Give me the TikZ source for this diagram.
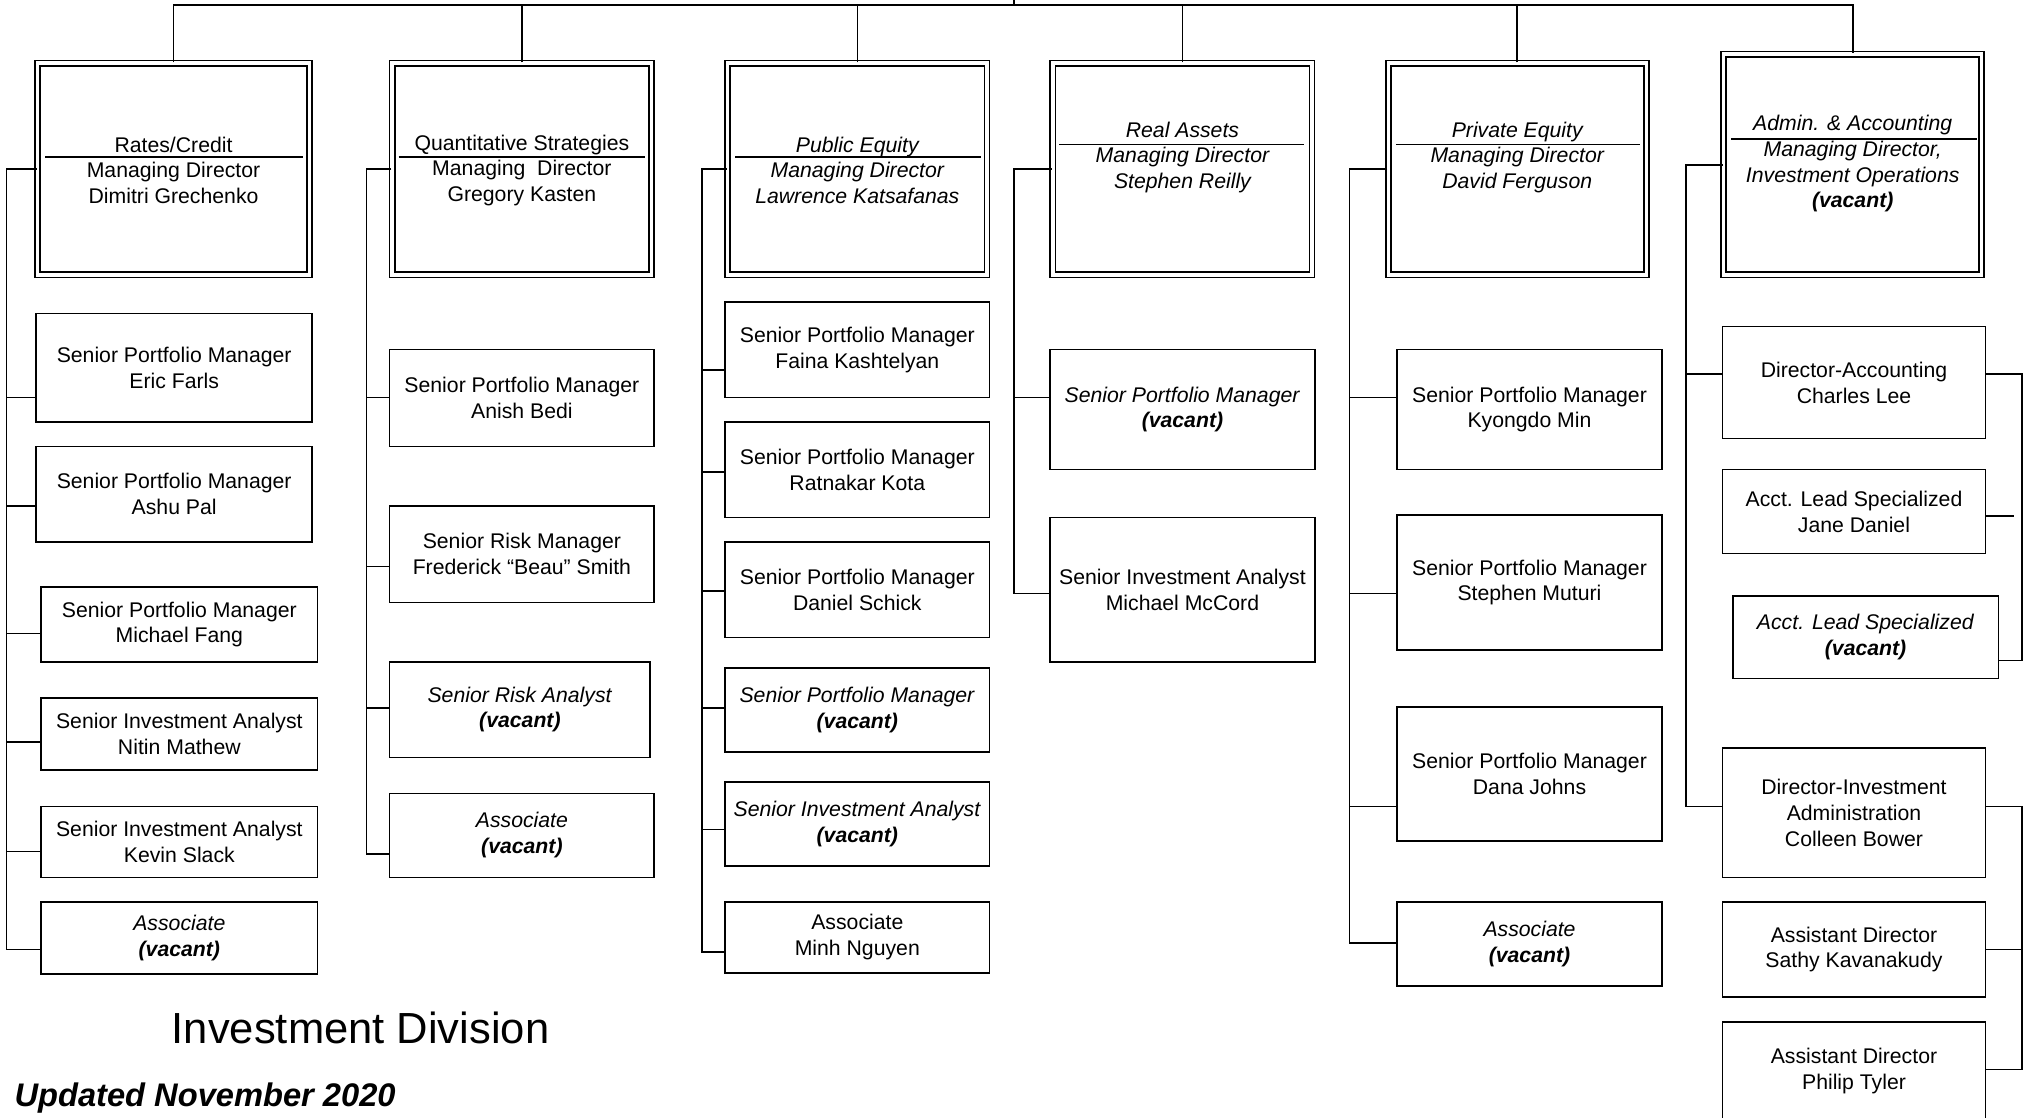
\documentclass[tikz,border=0pt]{standalone}
\usepackage{fontspec}
\setmainfont{Liberation Sans}
\newcommand\subfont{\fontsize{11.7}{14.2}\selectfont}
\newcommand\vac{\textbf{\textit{(vacant)}}}
\tikzset{
  conn/.style={line width=0.9pt},
  sbox/.style={draw, line width=0.9pt, align=center, inner sep=0pt, font=\subfont},
  mbox/.style={draw, line width=0.9pt, double, double distance=1.9pt, inner sep=0pt},
  mtext/.style={align=center, inner sep=0pt, font=\subfont},
}
\newcommand\sbx[6]{\node[sbox, minimum width={(#4-#2)*0.025cm}, minimum height={(#5-#3)*0.025cm}] (#1) at ({(#2+#4)/2},{(#3+#5)/2}) {#6};}
\newcommand\mbx[5]{\node[mbox, minimum width={(#4-#2-4)*0.025cm}, minimum height={(#5-#3-4)*0.025cm}] (#1) at ({(#2+#4)/2},{(#3+#5)/2}) {};}
\newcommand\lstub[3]{\draw[conn] (#1.west |- 0,#3) -- (#2 |- 0,#3);}
\newcommand\rstub[3]{\draw[conn] (#1.east |- 0,#3) -- (#2 |- 0,#3);}
\begin{document}
\begin{tikzpicture}[x=0.025cm, y=-0.025cm]
\useasboundingbox (0,0) rectangle (1568,866);
\fill[white] (0,0) rectangle (1568,866);
\clip (0,0) rectangle (1568,866);

% ---------- managing directors ----------
\mbx{m1}{27}{47}{242}{215}
\mbx{m2}{302}{47}{507}{215}
\mbx{m3}{562}{47}{767}{215}
\mbx{m4}{814}{47}{1019}{215}
\mbx{m5}{1074}{47}{1278}{215}
\mbx{m6}{1334}{40}{1538}{215}

\node[mtext] (m1t) at (134.5,132) {Rates/Credit\\Managing Director\\Dimitri Grechenko};
\node[mtext] (m2t) at (404.5,132) {Quantitative Strategies\\Managing~ Director\\Gregory Kasten};
\node[mtext, font=\subfont\itshape] (m3t) at (664.5,132) {Public Equity\\Managing Director\\Lawrence Katsafanas};
\node[mtext, font=\subfont\itshape] (m4t) at (916.5,122) {Real Assets\\Managing Director\\Stephen Reilly};
\node[mtext, font=\subfont\itshape] (m5t) at (1176,122) {Private Equity\\Managing Director\\David Ferguson};
\node[mtext, font=\subfont\itshape] (m6t) at (1436,127) {Admin. \& Accounting\\Managing Director,\\Investment Operations\\\vac};

\draw[conn] (35,121.5) -- (235,121.5);
\draw[conn] (309,121.5) -- (500,121.5);
\draw[conn] (570,121.5) -- (760,121.5);
\draw[conn] (821,112) -- (1011,112);
\draw[conn] (1082,112) -- (1271,112);
\draw[conn] (1342,107.5) -- (1532,107.5);

% ---------- top bar ----------
\coordinate (bar) at (0,4);
\coordinate (ceo) at (786,-5);
\draw[conn] (ceo) -- (ceo |- bar);
\draw[conn] (m1.north) |- (m6.north |- bar) -- (m6.north);
\foreach \m in {m2,m3,m4,m5} \draw[conn] (\m.north) -- (\m.north |- bar);

% ---------- column 1 ----------
\sbx{s11}{28}{243}{242}{327}{Senior Portfolio Manager\\Eric Farls}
\sbx{s12}{28}{346}{242}{420}{Senior Portfolio Manager\\Ashu Pal}
\sbx{s13}{32}{455}{246}{513}{Senior Portfolio Manager\\Michael Fang}
\sbx{s14}{32}{541}{246}{597}{Senior Investment Analyst\\Nitin Mathew}
\sbx{s15}{32}{625}{246}{680}{Senior Investment Analyst\\Kevin Slack}
\sbx{s16}{32}{699}{246}{755}{\textit{Associate}\\\vac}
\coordinate (t1) at (5,0);
\draw[conn] (m1.west) -- (m1.west -| t1) |- (s16.west |- 0,736);
\lstub{s11}{t1}{308}
\lstub{s12}{t1}{392}
\lstub{s13}{t1}{491}
\lstub{s14}{t1}{575}
\lstub{s15}{t1}{660}

% ---------- column 2 ----------
\sbx{s21}{302}{271}{507}{346}{Senior Portfolio Manager\\Anish Bedi}
\sbx{s22}{302}{392}{507}{467}{Senior Risk Manager\\Frederick “Beau” Smith}
\sbx{s23}{302}{513}{504}{587}{\textit{Senior Risk Analyst}\\\vac}
\sbx{s24}{302}{615}{507}{680}{\textit{Associate}\\\vac}
\coordinate (t2) at (284,0);
\draw[conn] (m2.west) -- (m2.west -| t2) |- (s24.west |- 0,662);
\lstub{s21}{t2}{308}
\lstub{s22}{t2}{439}
\lstub{s23}{t2}{549}

% ---------- column 3 ----------
\sbx{s31}{562}{234}{767}{308}{Senior Portfolio Manager\\Faina Kashtelyan}
\sbx{s32}{562}{327}{767}{401}{Senior Portfolio Manager\\Ratnakar Kota}
\sbx{s33}{562}{420}{767}{494}{Senior Portfolio Manager\\Daniel Schick}
\sbx{s34}{562}{518}{767}{583}{\textit{Senior Portfolio Manager}\\\vac}
\sbx{s35}{562}{606}{767}{671}{\textit{Senior Investment Analyst}\\\vac}
\sbx{s36}{562}{699}{767}{754}{Associate\\Minh Nguyen}
\coordinate (t3) at (544,0);
\draw[conn] (m3.west) -- (m3.west -| t3) |- (s36.west |- 0,738);
\lstub{s31}{t3}{287}
\lstub{s32}{t3}{366}
\lstub{s33}{t3}{458}
\lstub{s34}{t3}{549}
\lstub{s35}{t3}{643}

% ---------- column 4 ----------
\sbx{s41}{814}{271}{1019}{364}{\textit{Senior Portfolio Manager}\\\vac}
\sbx{s42}{814}{401}{1019}{513}{Senior Investment Analyst\\Michael McCord}
\coordinate (t4) at (786,0);
\draw[conn] (m4.west) -- (m4.west -| t4) |- (s42.west |- 0,460);
\lstub{s41}{t4}{308}

% ---------- column 5 ----------
\sbx{s51}{1083}{271}{1288}{364}{Senior Portfolio Manager\\Kyongdo Min}
\sbx{s52}{1083}{399}{1288}{504}{Senior Portfolio Manager\\Stephen Muturi}
\sbx{s53}{1083}{548}{1288}{652}{Senior Portfolio Manager\\Dana Johns}
\sbx{s54}{1083}{699}{1288}{764}{\textit{Associate}\\\vac}
\coordinate (t5) at (1046,0);
\draw[conn] (m5.west) -- (m5.west -| t5) |- (s54.west |- 0,731);
\lstub{s51}{t5}{308}
\lstub{s52}{t5}{460}
\lstub{s53}{t5}{625}

% ---------- column 6 ----------
\sbx{s61}{1335}{253}{1539}{340}{Director-Accounting\\Charles Lee}
\sbx{s62}{1335}{364}{1539}{429}{Acct. Lead Specialized\\Jane Daniel}
\sbx{s63}{1343}{462}{1549}{526}{\textit{Acct. Lead Specialized}\\\vac}
\sbx{s64}{1335}{580}{1539}{680}{Director-Investment\\Administration\\Colleen Bower}
\sbx{s65}{1335}{699}{1539}{773}{Assistant Director\\Sathy Kavanakudy}
\sbx{s66}{1335}{792}{1539}{868}{Assistant Director\\Philip Tyler}
\coordinate (t6) at (1307,0);
\coordinate (r) at (1567,0);
\coordinate (rj) at (1561,0);
\draw[conn] (m6.west |- 0,128) -| (t6 |- 0,625) -- (s64.west |- 0,625);
\lstub{s61}{t6}{290}
\draw[conn] (s61.east |- 0,290) -| (r |- 0,512) -- (s63.east |- 0,512);
\rstub{s62}{rj}{400}
\draw[conn] (s64.east |- 0,625) -| (r |- 0,829) -- (s66.east |- 0,829);
\rstub{s65}{r}{736}

% ---------- titles ----------
\node[inner sep=0pt, font=\fontsize{24}{28}\selectfont] (title) at (279.5,797) {Investment Division};
\node[inner sep=0pt, anchor=west, font=\fontsize{18}{22}\selectfont\bfseries\itshape] (upd) at (11,851) {Updated November 2020};
\end{tikzpicture}
\end{document}
